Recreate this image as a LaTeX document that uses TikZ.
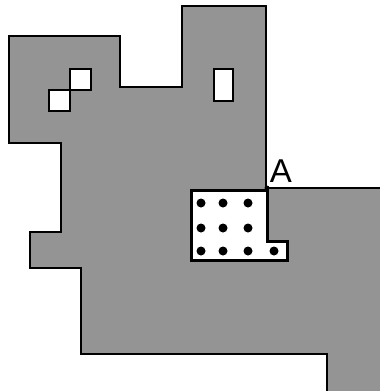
\documentclass[tikz,border=0pt]{standalone}
\usepackage{fontspec}
\setmainfont{Liberation Sans}
\begin{document}
\begin{tikzpicture}[x=1pt,y=-1pt,
  regionfill/.style={fill=black!42},
  edge/.style={draw=black,line width=1.2pt},
  hole/.style={fill=white,draw=black,line width=1.2pt},
  inner/.style={fill=white,draw=black,line width=3pt,line join=miter},
  dot/.style={circle,fill=black,inner sep=0pt,minimum size=9pt}]
\useasboundingbox (0,0) rectangle (380,391);
\fill[white] (0,0) rectangle (380,391);
\fill[regionfill] (381,188) -- (266,188) -- (266,6) -- (182,6) -- (182,87) -- (120,87) -- (120,36) -- (9,36) -- (9,143) -- (61,143) -- (61,232) -- (30,232) -- (30,268) -- (81,268) -- (81,354) -- (327,354) -- (327,392) -- (381,392) -- cycle;
\draw[edge] (381,188) -- (266,188) -- (266,6) -- (182,6) -- (182,87) -- (120,87) -- (120,36) -- (9,36) -- (9,143) -- (61,143) -- (61,232) -- (30,232) -- (30,268) -- (81,268) -- (81,354) -- (327,354) -- (327,392);
\draw[hole] (70,69) rectangle (91,90);
\draw[hole] (49,90) rectangle (70,111);
\draw[hole] (214,69) rectangle (233,101);
\draw[inner] (191,190) -- (267,190) -- (267,241) -- (287,241) -- (287,260) -- (191,260) -- cycle;
\foreach \y in {203,228}{\foreach \x in {201,223,248}{\node[dot] at (\x,\y) {};}}
\foreach \x in {201,223,248,274}{\node[dot] at (\x,251) {};}
\node[circle,fill=black,inner sep=0pt,minimum size=5pt] (A) at (267,188) {};
\node[font=\fontsize{33}{33}\selectfont,inner sep=0pt] (lab) at (281,171) {A};
\end{tikzpicture}
\end{document}
